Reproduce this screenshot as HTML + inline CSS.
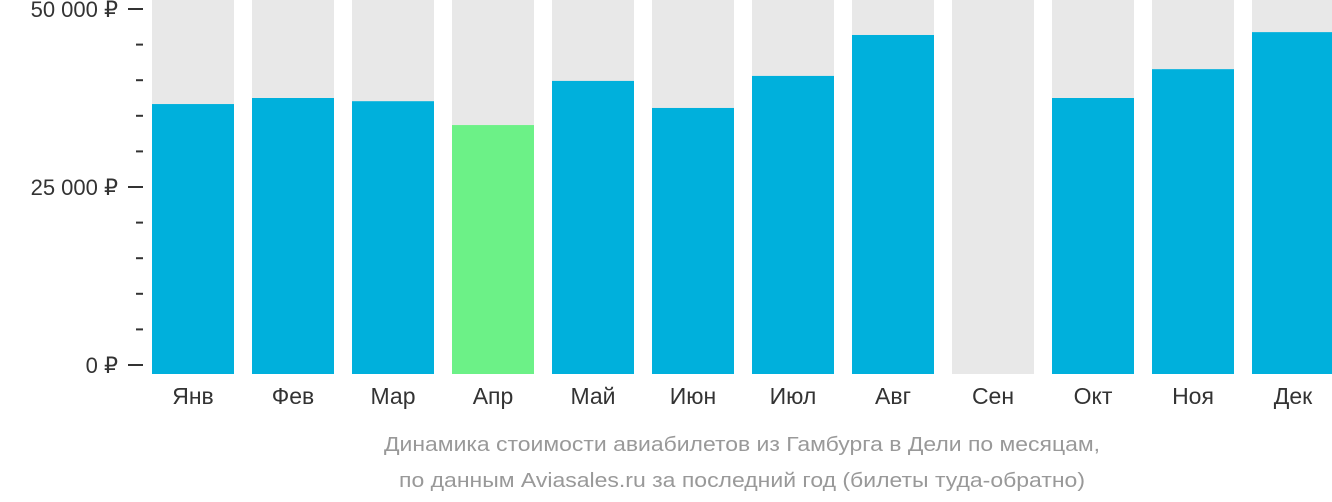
<!DOCTYPE html>
<html><head><meta charset="utf-8"><style>
html,body{margin:0;padding:0;background:#fff;width:1332px;height:502px;overflow:hidden}
svg{display:block;font-family:"Liberation Sans","DejaVu Sans",sans-serif}
</style></head><body>
<svg id="chart" width="1332" height="502" viewBox="0 0 1332 502" xmlns="http://www.w3.org/2000/svg">
<g id="bg"></g>
<g id="bars"></g>
<g id="yaxis"></g>
<g id="xaxis"></g>
<text x="742" y="451" text-anchor="middle" font-size="20" fill="#999" textLength="716" lengthAdjust="spacingAndGlyphs">Динамика стоимости авиабилетов из Гамбурга в Дели по месяцам,</text>
<text x="742" y="487" text-anchor="middle" font-size="20" fill="#999" textLength="686" lengthAdjust="spacingAndGlyphs">по данным Aviasales.ru за последний год (билеты туда-обратно)</text>
</svg>
<script>
const months = ["Янв","Фев","Мар","Апр","Май","Июн","Июл","Авг","Сен","Окт","Ноя","Дек"];
const prices = [36650, 37500, 37050, 33700, 39900, 36100, 40600, 46350, 0, 37500, 41550, 46750];
const highlight = [false,false,false,true,false,false,false,false,false,false,false,false];
const yTickValues = [0, 25000, 50000];
const yTickLabels = ["0 ₽", "25 000 ₽", "50 000 ₽"];
const yMinorStep = 5000;
const yMax = 50000;

const NS = "http://www.w3.org/2000/svg";
const y0 = 365, y1 = 9, barBottom = 374, barTop = 0;
const x0 = 152, step = 100, bw = 82;
function yScale(v){ return y0 - (v / yMax) * (y0 - y1); }
function xScale(i){ return x0 + i * step; }
function mk(tag, attrs, parent){ const e = document.createElementNS(NS, tag); for (const k in attrs) e.setAttribute(k, attrs[k]); parent.appendChild(e); return e; }

const bg = document.getElementById("bg"), bars = document.getElementById("bars");
const xa = document.getElementById("xaxis"), ya = document.getElementById("yaxis");
months.forEach((m, i) => {
  const r = mk("rect", {x: xScale(i), y: barTop, width: bw, height: barBottom - barTop, fill: "#e8e8e8"}, bg);
  
  
  if (prices[i] > 0) {
    const top = yScale(prices[i]);
    const b = mk("rect", {x: xScale(i), y: top, width: bw, height: barBottom - top, fill: highlight[i] ? "#6cf187" : "#00b0dc"}, bars);
    
    
  }
  const t = mk("text", {x: xScale(i) + bw / 2, y: 404, "text-anchor": "middle", "font-size": 23, fill: "#333"}, xa);
  t.textContent = m;
  
  
});
for (let v = 0; v <= yMax; v += yMinorStep) {
  const y = yScale(v);
  const major = yTickValues.indexOf(v) >= 0;
  const l = mk("line", {x1: major ? 128 : 136, x2: 143, y1: y, y2: y, stroke: "#333", "stroke-width": 2}, ya);
  
  
}
yTickValues.forEach((v, i) => {
  const t = mk("text", {x: 118, y: yScale(v) + 8, "text-anchor": "end", "font-size": 22, fill: "#333"}, ya);
  t.textContent = yTickLabels[i];
  
  
});
</script>
</body></html>
